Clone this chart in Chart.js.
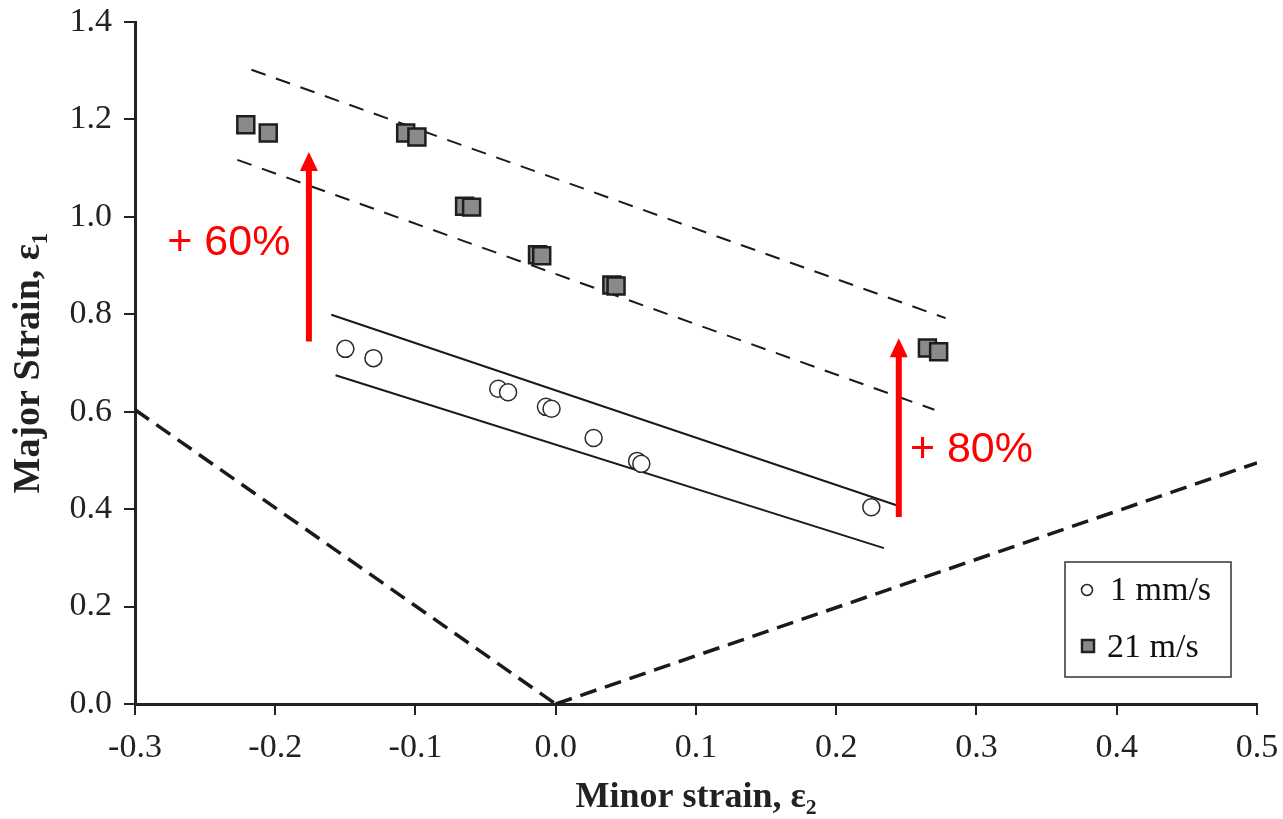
<!DOCTYPE html>
<html>
<head>
<meta charset="utf-8">
<script src="https://cdn.jsdelivr.net/npm/chart.js@4.4.1/dist/chart.umd.min.js"></script>
<style>
  html, body { margin: 0; padding: 0; background: #fff; }
  #grafico { display: block; }
</style>
</head>
<body>
<canvas id="grafico" width="1283" height="819"></canvas>
<script>
// 1 mm/s (circulos)
const lentoX = [-0.150, -0.130, -0.041, -0.034, -0.007, -0.003, 0.027, 0.058, 0.061, 0.225];
const lentoY = [0.729, 0.710, 0.647, 0.640, 0.610, 0.606, 0.546, 0.499, 0.493, 0.404];

// 21 m/s (cuadrados)
const rapidoX = [-0.221, -0.205, -0.107, -0.099, -0.065, -0.060, -0.013, -0.010, 0.040, 0.043, 0.265, 0.273];
const rapidoY = [1.189, 1.172, 1.172, 1.164, 1.022, 1.020, 0.922, 0.920, 0.860, 0.858, 0.731, 0.723];

// bandas
const bandaLentaSup = [[-0.160, 0.799], [0.244, 0.407]];
const bandaLentaInf = [[-0.157, 0.675], [0.234, 0.320]];
const bandaRapidaSup = [[-0.217, 1.302], [0.278, 0.792]];
const bandaRapidaInf = [[-0.227, 1.117], [0.270, 0.604]];

// limites en V
const limiteIzq = [[-0.3, 0.604], [0.0, 0.0]];
const limiteDer = [[0.0, 0.0], [0.5, 0.495]];

// flechas [x, yDesde, yHasta] y etiquetas
const flechas = [[-0.176, 0.744, 1.133], [0.2446, 0.384, 0.751]];
const etiquetas = [['+ 60%', -0.277, 0.946], ['+ 80%', 0.2525, 0.521]];

const ticksX = [-0.3, -0.2, -0.1, 0.0, 0.1, 0.2, 0.3, 0.4, 0.5];
const ticksY = [0.0, 0.2, 0.4, 0.6, 0.8, 1.0, 1.2, 1.4];

const pts = (xs, ys) => xs.map((x, i) => ({ x: x, y: ys[i] }));
const seg = a => a.map(p => ({ x: p[0], y: p[1] }));
const fmt = v => (Math.abs(v) < 1e-9 ? 0 : v).toFixed(1);
const serif = '"Liberation Serif", "Times New Roman", serif';

function linea(data, ancho, guion) {
  return {
    data: seg(data), showLine: true, borderColor: '#1a1a1a', borderWidth: ancho,
    borderDash: guion, pointRadius: 0, fill: false, order: 5
  };
}

const extras = {
  id: 'extras',
  afterDatasetsDraw(chart) {
    const ctx = chart.ctx;
    const sx = chart.scales.x, sy = chart.scales.y;
    ctx.save();
    // flechas rojas
    flechas.forEach(f => {
      const px = sx.getPixelForValue(f[0]);
      const y0 = sy.getPixelForValue(f[1]);
      const y1 = sy.getPixelForValue(f[2]);
      ctx.strokeStyle = '#ff0000';
      ctx.fillStyle = '#ff0000';
      ctx.lineWidth = 6;
      ctx.beginPath();
      ctx.moveTo(px, y0);
      ctx.lineTo(px, y1 + 16);
      ctx.stroke();
      ctx.beginPath();
      ctx.moveTo(px, y1);
      ctx.lineTo(px - 9, y1 + 19);
      ctx.lineTo(px + 9, y1 + 19);
      ctx.closePath();
      ctx.fill();
    });
    ctx.font = '43px "Liberation Sans", Arial, sans-serif';
    ctx.textBaseline = 'middle';
    ctx.textAlign = 'left';
    etiquetas.forEach(t => {
      ctx.fillText(t[0], sx.getPixelForValue(t[1]), sy.getPixelForValue(t[2]));
    });

    // leyenda
    const a = chart.chartArea;
    const bx = a.right - 192, by = a.bottom - 142, bw = 166, bh = 115;
    ctx.fillStyle = '#fff';
    ctx.fillRect(bx, by, bw, bh);
    ctx.strokeStyle = '#333';
    ctx.lineWidth = 1.5;
    ctx.strokeRect(bx, by, bw, bh);
    ctx.strokeStyle = '#222';
    ctx.fillStyle = '#fff';
    ctx.beginPath();
    ctx.arc(bx + 22, by + 28, 5.5, 0, Math.PI * 2);
    ctx.fill();
    ctx.stroke();
    ctx.fillStyle = '#8c8989';
    ctx.lineWidth = 2.5;
    ctx.fillRect(bx + 17, by + 78, 12, 12);
    ctx.strokeRect(bx + 17, by + 78, 12, 12);
    ctx.fillStyle = '#111';
    ctx.font = '34px ' + serif;
    ctx.fillText('1 mm/s', bx + 45, by + 29);
    ctx.fillText('21 m/s', bx + 42, by + 86);
    ctx.restore();
  }
};

new Chart(document.getElementById('grafico'), {
  type: 'scatter',
  data: {
    datasets: [
      {
        label: '1 mm/s', data: pts(lentoX, lentoY), pointStyle: 'circle', pointRadius: 8.5,
        backgroundColor: '#ffffff', borderColor: '#2a2a2a', borderWidth: 1.5, order: 2
      },
      {
        label: '21 m/s', data: pts(rapidoX, rapidoY), pointStyle: 'rect', pointRadius: 12,
        backgroundColor: '#8c8989', borderColor: '#1e1e1e', borderWidth: 2.5, order: 1
      },
      linea(bandaLentaSup, 2, []),
      linea(bandaLentaInf, 2, []),
      linea(bandaRapidaSup, 2, [15, 11]),
      linea(bandaRapidaInf, 2, [15, 11]),
      linea(limiteIzq, 3.5, [17, 9]),
      linea(limiteDer, 3.5, [17, 9])
    ]
  },
  options: {
    responsive: false,
    animation: false,
    devicePixelRatio: 1,
    layout: { padding: { top: 22, right: 26, left: 6, bottom: 0 } },
    plugins: { legend: { display: false }, tooltip: { enabled: false } },
    scales: {
      x: {
        type: 'linear', min: -0.3, max: 0.5,
        afterBuildTicks: s => { s.ticks = ticksX.map(v => ({ value: v })); },
        afterFit: s => { s.height = 115; s.paddingLeft = 0; s.paddingRight = 0; },
        ticks: {
          callback: fmt, color: '#222', padding: 13, maxRotation: 0,
          font: { family: serif, size: 34 }
        },
        grid: { drawOnChartArea: false, drawTicks: true, tickLength: 11, color: '#222', lineWidth: 2 },
        border: { color: '#222', width: 3 },
        title: {
          display: true, text: 'Minor strain, ε₂', color: '#222', padding: { top: 0, bottom: 0 },
          font: { family: serif, size: 36, weight: 'bold' }
        }
      },
      y: {
        type: 'linear', min: 0, max: 1.4,
        afterBuildTicks: s => { s.ticks = ticksY.map(v => ({ value: v })); },
        afterFit: s => { s.width = 129; s.paddingTop = 0; s.paddingBottom = 0; },
        ticks: {
          callback: fmt, color: '#222', padding: 12,
          font: { family: serif, size: 34 }
        },
        grid: { drawOnChartArea: false, drawTicks: true, tickLength: 11, color: '#222', lineWidth: 2 },
        border: { color: '#222', width: 3 },
        title: {
          display: true, text: 'Major Strain, ε₁', color: '#222', padding: { top: 0, bottom: 0 },
          font: { family: serif, size: 38, weight: 'bold' }
        }
      }
    }
  },
  plugins: [extras]
});
</script>
</body>
</html>
